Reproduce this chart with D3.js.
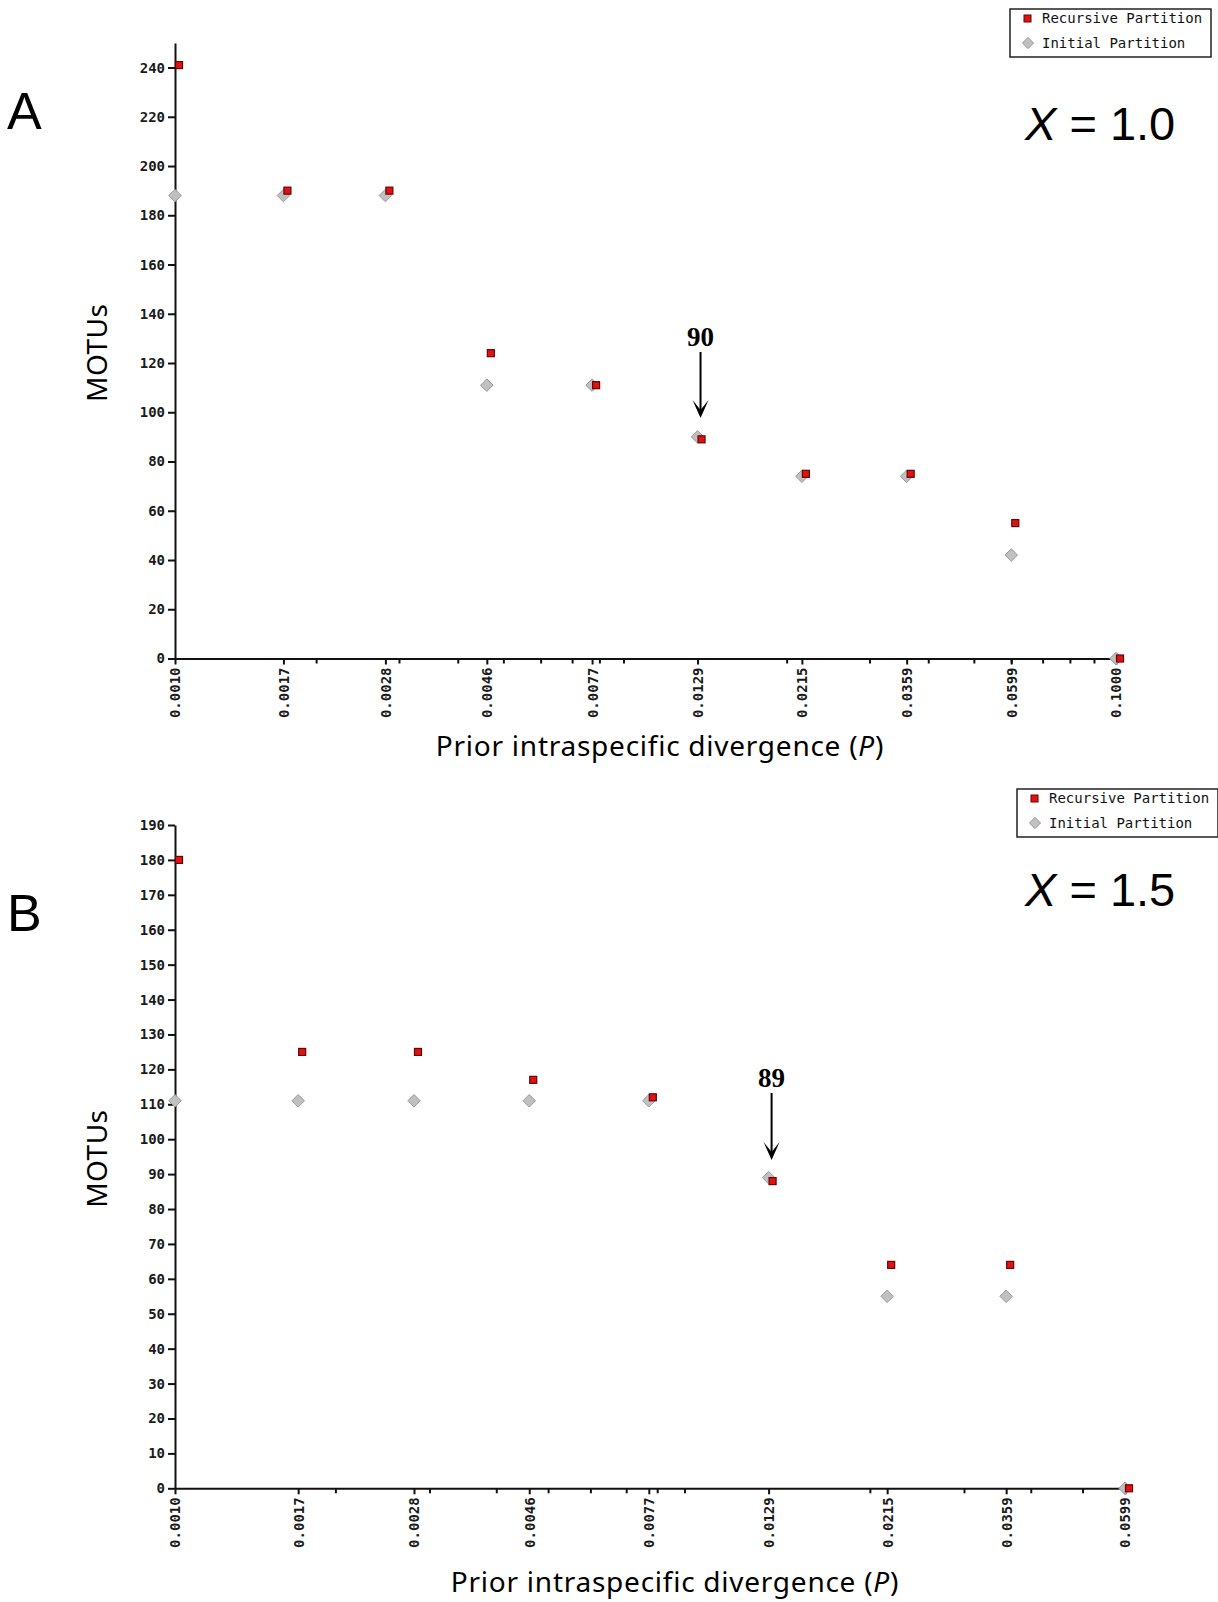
<!DOCTYPE html>
<html lang="en">
<head>
  <meta charset="UTF-8">
  <title>MOTUs vs prior intraspecific divergence</title>
  <style>
    body { margin: 0; background: #fff; }
    .tick text { font-family: "DejaVu Sans Mono", monospace; font-weight: bold; fill: #1a1a1a; }
  </style>
</head>
<body>
  <div id="svg"></div>
</body>
<script src="https://cdn.jsdelivr.net/npm/d3@7"></script>
<script type="text/javascript">
  // panel A  (X = 1.0)
  const catsA = ["0.0010", "0.0017", "0.0028", "0.0046", "0.0077", "0.0129", "0.0215", "0.0359", "0.0599", "0.1000"]
  const recursiveA = [241, 190, 190, 124, 111, 89, 75, 75, 55, 0]
  const initialA = [188, 188, 188, 111, 111, 90, 74, 74, 42, 0]
  const yTicksA = [0, 20, 40, 60, 80, 100, 120, 140, 160, 180, 200, 220, 240]

  // panel B  (X = 1.5)
  const catsB = ["0.0010", "0.0017", "0.0028", "0.0046", "0.0077", "0.0129", "0.0215", "0.0359", "0.0599"]
  const recursiveB = [180, 125, 125, 117, 112, 88, 64, 64, 0]
  const initialB = [111, 111, 111, 111, 111, 89, 55, 55, 0]
  const yTicksB = [0, 10, 20, 30, 40, 50, 60, 70, 80, 90, 100, 110, 120, 130, 140, 150, 160, 170, 180, 190]

  const legendNames = ["Recursive Partition", "Initial Partition"]

  const width = 1218
  const height = 1602
  const svg = d3.select("#svg").append("svg").attr("width", width).attr("height", height)

  const red = "#dc1414"
  const redEdge = "#6e0000"
  const grey = "#c0c0c0"
  const greyEdge = "#9a9a9a"

  const drawPanel = (p) => {
    const g = svg.append("g")
    const xVals = p.cats.map(d => +d)
    const x = d3.scaleLog().domain([xVals[0], xVals[xVals.length - 1]]).range([p.left, p.right])
    const y = d3.scaleLinear().domain([0, p.yMax]).range([p.bottom, p.top])

    // minor ticks of the log axis
    const minor = []
    for (let e = -3; e <= -1; e++) {
      for (let m = 2; m <= 9; m++) {
        const v = m * Math.pow(10, e)
        if (v < x.domain()[1]) minor.push(v)
      }
    }
    g.append("g").selectAll("line").data(minor).enter().append("line")
      .attr("x1", d => x(d)).attr("x2", d => x(d))
      .attr("y1", p.bottom).attr("y2", p.bottom + 5)
      .attr("stroke", "#111").attr("stroke-width", 2)

    // x axis
    const xAxis = g.append("g").attr("transform", `translate(0,${p.bottom})`)
      .call(d3.axisBottom(x).tickValues(xVals).tickFormat((d, i) => p.cats[i]).tickSize(6).tickSizeOuter(0))
    xAxis.select(".domain").attr("stroke", "#111").attr("stroke-width", 2)
    xAxis.selectAll(".tick line").attr("stroke", "#111").attr("stroke-width", 2)
    xAxis.selectAll(".tick text")
      .attr("font-size", 14)
      .attr("transform", "rotate(-90)")
      .attr("text-anchor", "end")
      .attr("x", -9).attr("y", 0).attr("dy", "0.35em")

    // y axis
    const yAxis = g.append("g").attr("transform", `translate(${p.left},0)`)
      .call(d3.axisLeft(y).tickValues(p.yTicks).tickSize(7).tickPadding(3).tickSizeOuter(0))
    yAxis.select(".domain").attr("stroke", "#111").attr("stroke-width", 2)
    yAxis.selectAll(".tick line").attr("stroke", "#111").attr("stroke-width", 2)
    yAxis.selectAll(".tick text").attr("font-size", 14)

    // initial partition: grey diamonds
    g.append("g").selectAll("path").data(p.initial).enter().append("path")
      .attr("d", d3.symbol().type(d3.symbolDiamond2).size(100))
      .attr("transform", (d, i) => `translate(${x(xVals[i])},${y(d)})`)
      .attr("fill", grey).attr("stroke", greyEdge).attr("stroke-width", 1)

    // recursive partition: red squares, drawn a bit to the right
    g.append("g").selectAll("rect").data(p.recursive).enter().append("rect")
      .attr("x", (d, i) => x(xVals[i]) + 0.5)
      .attr("y", d => y(d) - 3.5)
      .attr("width", 7).attr("height", 7)
      .attr("fill", red).attr("stroke", redEdge).attr("stroke-width", 1.2)

    // arrow pointing at the marked value
    const ax = x(+p.arrowAt) + 3
    g.append("text").attr("x", ax).attr("y", p.arrowTextY)
      .attr("text-anchor", "middle")
      .attr("font-family", "Liberation Serif, serif").attr("font-weight", "bold").attr("font-size", 27)
      .text(p.arrowText)
    g.append("line").attr("x1", ax).attr("x2", ax)
      .attr("y1", p.arrowFrom).attr("y2", p.arrowTo - 4)
      .attr("stroke", "#000").attr("stroke-width", 2)
    g.append("path")
      .attr("d", `M${ax - 8},${p.arrowTo - 18} L${ax},${p.arrowTo} L${ax + 8},${p.arrowTo - 18} L${ax},${p.arrowTo - 8} Z`)
      .attr("fill", "#000")

    // axis titles
    g.append("text")
      .attr("transform", `translate(${p.yTitleX},${(p.top + p.bottom) / 2 + 2}) rotate(-90)`)
      .attr("text-anchor", "middle")
      .attr("font-family", "Noto Sans, sans-serif").attr("font-size", 28)
      .attr("letter-spacing", 0.5)
      .text("MOTUs")
    const xt = g.append("text")
      .attr("x", p.xTitleX).attr("y", p.xTitleY)
      .attr("text-anchor", "middle")
      .attr("font-family", "Noto Sans, sans-serif").attr("font-size", 28)
      .attr("letter-spacing", 0.75)
    xt.append("tspan").text("Prior intraspecific divergence (")
    xt.append("tspan").attr("font-style", "italic").text("P")
    xt.append("tspan").text(")")

    // panel letter and X value
    g.append("text").attr("x", 7).attr("y", p.letterY)
      .attr("font-family", "Liberation Sans, Arial, sans-serif").attr("font-size", 52)
      .text(p.letter)
    const xv = g.append("text").attr("x", 1025).attr("y", p.xValueY)
      .attr("font-family", "Liberation Sans, Arial, sans-serif").attr("font-size", 47)
    xv.append("tspan").attr("font-style", "italic").text("X")
    xv.append("tspan").text(" = " + p.xValue)

    // legend
    const lg = g.append("g").attr("transform", `translate(${p.legendX},${p.legendY})`)
    lg.append("rect").attr("width", 201).attr("height", 48)
      .attr("fill", "#fff").attr("stroke", "#222").attr("stroke-width", 1.5)
    lg.append("rect").attr("x", 14).attr("y", 6).attr("width", 7).attr("height", 7)
      .attr("fill", red).attr("stroke", redEdge).attr("stroke-width", 1)
    lg.append("path").attr("d", d3.symbol().type(d3.symbolDiamond2).size(80))
      .attr("transform", "translate(18,34)")
      .attr("fill", grey).attr("stroke", greyEdge)
    lg.selectAll("text.leg").data(legendNames).enter().append("text")
      .attr("class", "leg")
      .attr("x", 32).attr("y", (d, i) => 14 + i * 25)
      .attr("font-family", "DejaVu Sans Mono, monospace").attr("font-size", 14)
      .attr("fill", "#111")
      .text(d => d)
  }

  drawPanel({
    cats: catsA, recursive: recursiveA, initial: initialA, yTicks: yTicksA, yMax: 250,
    left: 175, right: 1116, top: 42.9, bottom: 658.5,
    arrowAt: "0.0129", arrowText: "90", arrowTextY: 346, arrowFrom: 352, arrowTo: 418,
    yTitleX: 107, xTitleX: 660, xTitleY: 756,
    letter: "A", letterY: 129, xValue: "1.0", xValueY: 140,
    legendX: 1010, legendY: 9
  })

  drawPanel({
    cats: catsB, recursive: recursiveB, initial: initialB, yTicks: yTicksB, yMax: 190,
    left: 175, right: 1125, top: 825, bottom: 1488.3,
    arrowAt: "0.0129", arrowText: "89", arrowTextY: 1087, arrowFrom: 1093, arrowTo: 1160,
    yTitleX: 107, xTitleX: 675, xTitleY: 1592,
    letter: "B", letterY: 931, xValue: "1.5", xValueY: 906,
    legendX: 1017, legendY: 789
  })
</script>
</html>
